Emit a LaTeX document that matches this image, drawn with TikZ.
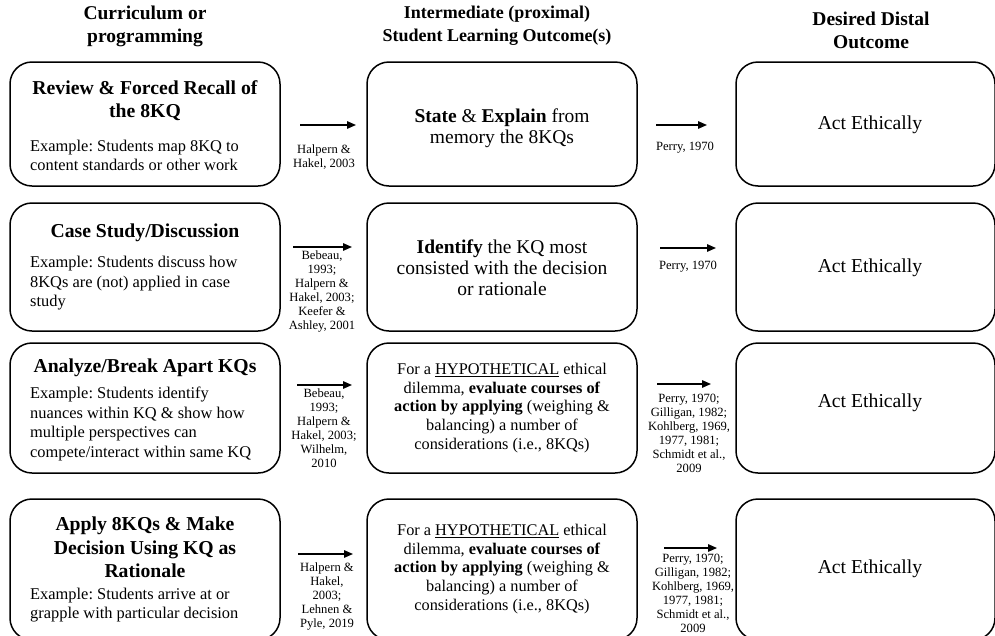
\documentclass[tikz,border=0pt]{standalone}
\usepackage{fontspec}
\setmainfont{Liberation Serif}
\usetikzlibrary{arrows.meta}
\frenchspacing
\newcommand{\headfont}{\fontsize{19.5}{23}\selectfont\bfseries}
\newcommand{\midheadfont}{\fontsize{18}{23}\selectfont\bfseries}
\newcommand{\titlefont}{\fontsize{19.7}{23.5}\selectfont\bfseries}
\newcommand{\exfont}{\fontsize{16.4}{19.5}\selectfont}
\newcommand{\midfont}{\fontsize{19.5}{21}\selectfont}
\newcommand{\hypfont}{\fontsize{16.3}{18.6}\selectfont}
\newcommand{\outfont}{\fontsize{19.7}{22}\selectfont}
\newcommand{\reffont}{\fontsize{12.6}{14}\selectfont}
\begin{document}
\begin{tikzpicture}[x=1pt,y=-1pt,
  box/.style={draw=black,line width=1.5pt,rounded corners=22pt,inner sep=0pt},
  lbox/.style={box,minimum width=270pt},
  rbox/.style={box,minimum width=259pt},
  flow/.style={line width=1.4pt,-{Triangle[length=9pt,width=7.5pt]}},
  cite/.style={align=center,inner sep=0pt,font=\reffont}]
\useasboundingbox (0,0) rectangle (995,635);
\clip (0,0) rectangle (995,635);
% column headers
\node[align=center,font=\headfont] (hcur) at (145,26) {Curriculum or\\programming};
\node[align=center,font=\midheadfont] (hint) at (497,26) {Intermediate (proximal)\\Student Learning Outcome(s)};
\node[align=center,font=\headfont] (hout) at (871,30) {Desired Distal\\Outcome};
% boxes
\node[lbox,minimum height=124pt] (cur1) at (145,124) {};
\node[lbox,minimum height=128pt] (cur2) at (145,267) {};
\node[lbox,minimum height=130pt] (cur3) at (145,408) {};
\node[lbox,minimum height=141pt] (cur4) at (145,569.5) {};
\node[lbox,minimum height=124pt] (int1) at (502,124) {};
\node[lbox,minimum height=128pt] (int2) at (502,267) {};
\node[lbox,minimum height=130pt] (int3) at (502,408) {};
\node[lbox,minimum height=141pt] (int4) at (502,569.5) {};
\node[rbox,minimum height=124pt] (out1) at (865.5,124) {};
\node[rbox,minimum height=128pt] (out2) at (865.5,267) {};
\node[rbox,minimum height=130pt] (out3) at (865.5,408) {};
\node[rbox,minimum height=141pt] (out4) at (865.5,569.5) {};
% curriculum texts
\node[align=center,font=\titlefont] (cur1t) at (145,100.5) {Review \& Forced Recall of\\the 8KQ};
\node[align=left,anchor=west,inner sep=0pt,font=\exfont] (cur1x) at (30,155.5) {Example: Students map 8KQ to\\content standards or other work};
\node[align=center,font=\titlefont] (cur2t) at (145,233) {Case Study/Discussion};
\node[align=left,anchor=west,inner sep=0pt,font=\exfont] (cur2x) at (30,283.5) {Example: Students discuss how\\8KQs are (not) applied in case\\study};
\node[align=center,font=\titlefont] (cur3t) at (145,368) {Analyze/Break Apart KQs};
\node[align=left,anchor=west,inner sep=0pt,font=\exfont] (cur3x) at (30,424) {Example: Students identify\\nuances within KQ \& show how\\multiple perspectives can\\compete/interact within same KQ};
\node[align=center,font=\titlefont] (cur4t) at (145,547.5) {Apply 8KQs \& Make\\Decision Using KQ as\\Rationale};
\node[align=left,anchor=west,inner sep=0pt,font=\exfont] (cur4x) at (30,605) {Example: Students arrive at or\\grapple with particular decision};
% intermediate texts
\node[align=center,font=\midfont] (int1t) at (502,128) {\textbf{State} \& \textbf{Explain} from\\memory the 8KQs};
\node[align=center,font=\midfont] (int2t) at (502,268) {\textbf{Identify} the KQ most\\consisted with the decision\\or rationale};
\node[align=center,font=\hypfont] (int3t) at (502,408) {For a \underline{HYPOTHETICAL} ethical\\dilemma, \textbf{evaluate courses of}\\\textbf{action by applying} (weighing \&\\balancing) a number of\\considerations (i.e., 8KQs)};
\node[align=center,font=\hypfont] (int4t) at (502,569) {For a \underline{HYPOTHETICAL} ethical\\dilemma, \textbf{evaluate courses of}\\\textbf{action by applying} (weighing \&\\balancing) a number of\\considerations (i.e., 8KQs)};
% distal outcome
\node[font=\outfont] (out1t) at (870,125) {Act Ethically};
\node[font=\outfont] (out2t) at (870,268) {Act Ethically};
\node[font=\outfont] (out3t) at (870,403) {Act Ethically};
\node[font=\outfont] (out4t) at (870,569) {Act Ethically};
% arrows
\coordinate (a1) at (300,125); \coordinate (b1) at (356,125);
\coordinate (c1) at (656,125); \coordinate (d1) at (707,125);
\coordinate (a2) at (293,247); \coordinate (b2) at (352,247);
\coordinate (c2) at (660,248); \coordinate (d2) at (716,248);
\coordinate (a3) at (297,385); \coordinate (b3) at (352,385);
\coordinate (c3) at (657,384); \coordinate (d3) at (711,384);
\coordinate (a4) at (298,554); \coordinate (b4) at (353,554);
\coordinate (c4) at (664,548); \coordinate (d4) at (717,548);
\draw[flow] (a1) -- (b1);
\draw[flow] (c1) -- (d1);
\draw[flow] (a2) -- (b2);
\draw[flow] (c2) -- (d2);
\draw[flow] (a3) -- (b3);
\draw[flow] (c3) -- (d3);
\draw[flow] (a4) -- (b4);
\draw[flow] (c4) -- (d4);
% citations
\node[cite] (ref1a) at (324,157) {Halpern \&\\Hakel, 2003};
\node[cite] (ref1b) at (685,148) {Perry, 1970};
\node[cite] (ref2a) at (322,291.5) {Bebeau,\\1993;\\Halpern \&\\Hakel, 2003;\\Keefer \&\\Ashley, 2001};
\node[cite] (ref2b) at (688,267) {Perry, 1970};
\node[cite] (ref3a) at (324,428.5) {Bebeau,\\1993;\\Halpern \&\\Hakel, 2003;\\Wilhelm,\\2010};
\node[cite] (ref3b) at (689,433.5) {Perry, 1970;\\Gilligan, 1982;\\Kohlberg, 1969,\\1977, 1981;\\Schmidt et al.,\\2009};
\node[cite] (ref4a) at (327,596.5) {Halpern \&\\Hakel,\\2003;\\Lehnen \&\\Pyle, 2019};
\node[cite] (ref4b) at (693,593) {Perry, 1970;\\Gilligan, 1982;\\Kohlberg, 1969,\\1977, 1981;\\Schmidt et al.,\\2009};
\end{tikzpicture}
\end{document}
